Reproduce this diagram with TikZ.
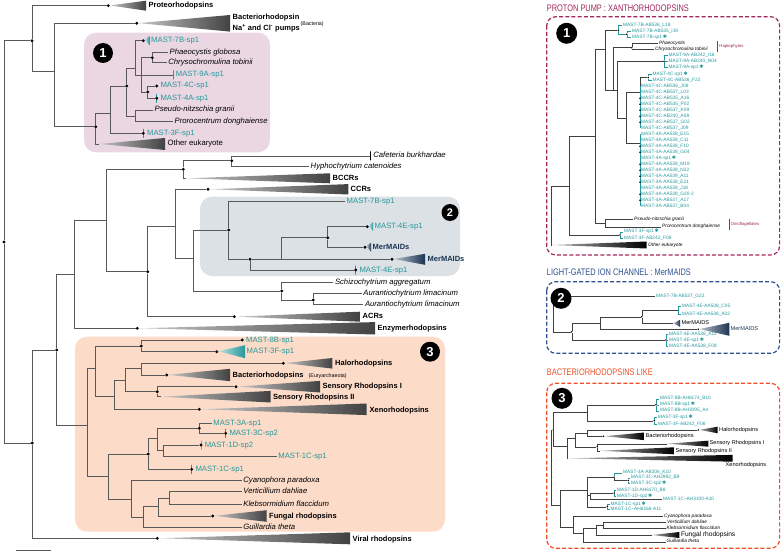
\documentclass[tikz,border=0pt]{standalone}
\usepackage{fontspec}
\setmainfont{Liberation Sans}
\newfontfamily\starfont{DejaVu Sans}
\usetikzlibrary{positioning,calc}

\definecolor{mastc}{RGB}{36,152,156}
\definecolor{navyc}{RGB}{27,52,82}
\definecolor{cladec}{RGB}{66,66,66}
\definecolor{boxone}{RGB}{235,215,226}
\definecolor{boxtwo}{RGB}{219,225,229}
\definecolor{boxthree}{RGB}{252,219,200}
\definecolor{pumpc}{RGB}{160,38,92}
\definecolor{chanc}{RGB}{46,80,142}
\definecolor{bactc}{RGB}{238,80,40}

\newcommand{\cladetri}[5][cladec]{%
  \shade[left color=#1!30, right color=#1] (#2) -- (#3,#4-#5) -- (#3,#4+#5) -- cycle;}
\newcommand{\spmark}{\,{\starfont\fontsize{5}{5}\selectfont ✱}}

\begin{document}
\begin{tikzpicture}[x=1pt, y=-1pt,
  br/.style={draw=black!65, line width=0.6pt},
  pbr/.style={draw=black!75, line width=0.4pt},
  tbr/.style={pbr, draw=mastc},
  dot/.style={circle, fill=black, inner sep=0pt, minimum size=3.2pt},
  pdot/.style={circle, fill=black, inner sep=0pt, minimum size=1.8pt},
  tk/.style={draw=mastc, line width=0.8pt, inner sep=0pt, minimum width=0pt, minimum height=9pt},
  spec/.style={anchor=west, inner sep=1.5pt, text height=5.5pt, text depth=1.5pt, font=\fontsize{7.7}{8}\selectfont\itshape},
  mast/.style={spec, text=mastc, font=\fontsize{7.7}{8}\selectfont},
  grp/.style={spec, font=\fontsize{7.5}{8}\selectfont\bfseries},
  note/.style={spec, font=\fontsize{5.3}{6}\selectfont},
  num/.style={circle, fill=black, text=white, inner sep=0pt, minimum size=20pt, font=\fontsize{13}{13}\selectfont\bfseries},
  plab/.style={anchor=west, inner sep=1pt, text height=3.5pt, text depth=1pt, text=mastc, font=\fontsize{4.8}{5}\selectfont},
  pspec/.style={plab, text=black, font=\fontsize{4.8}{5}\selectfont\itshape},
  pgrp/.style={plab, text=black, font=\fontsize{5.6}{6}\selectfont},
  ptitle/.style={anchor=west, inner sep=0pt, font=\fontsize{9.5}{10}\selectfont},
  pbox/.style={dashed, dash pattern=on 4pt off 2.2pt, line width=1.2pt, rounded corners=9pt},
]
\useasboundingbox (0,0) rectangle (781,556);

% Highlighted clades
\fill[boxone, rounded corners=12pt] (84,32.7) rectangle (270,152.3);
\fill[boxtwo, rounded corners=12pt] (200,196.7) rectangle (460,276);
\fill[boxthree, rounded corners=12pt] (75,336.7) rectangle (445,531.7);

% Root
\node[dot] (root) at (4,242) {};
\node[dot] (nA) at (32,40.7) {};
\node[dot] (nR) at (32.3,443) {};
\draw[br] (root) |- (nA);
\draw[br] (root) |- (nR);

% Proteorhodopsins and bacterial pumps
\node[dot] (proD) at (108.3,5.7) {};
\draw[br] (nA) |- (proD);
\cladetri{proD}{146}{5.7}{5}
\node[grp] (proteo) at (147,5.7) {Proteorhodopsins};
\coordinate (nB) at (54.3,71);
\draw[br] (nA) |- (nB);
\node[dot] (bacD) at (136.7,23.3) {};
\draw[br] (nB) |- (bacD);
\cladetri{bacD}{230}{23.3}{8.3}
\node[grp] (bacR) at (231,18) {Bacteriorhodopsin};
\node[grp] (pumps) at (231,28.7) {Na\textsuperscript{+} and Cl\textsuperscript{-} pumps};
\node[note] (bacteria) at (299,23.5) {(Bacteria)};

% Clade 1
\node[dot] (nC) at (95.7,126.7) {};
\draw[br] (nB) |- (nC);
\coordinate (oeA) at (99,144);
\draw[br] (nC) |- (oeA);
\cladetri{oeA}{165}{144}{6}
\node[spec, font=\fontsize{7.7}{8}\selectfont] (oeuk) at (166,144) {Other eukaryote};
\coordinate (nD) at (110,113);
\draw[br] (nC) |- (nD);
\node[tk] (m3fT) at (143.3,133.3) {};
\node[dot] (m3fD) at (143.3,133.3) {};
\draw[br] (nD) |- (m3fD);
\node[mast, right=0.3pt of m3fD] (m3f) {MAST-3F-sp1};
\node[dot] (nE) at (126.7,86) {};
\draw[br] (nD) |- (nE);
\coordinate (nG) at (135.7,116);
\draw[br] (nE) |- (nG);
\node[spec] (pseudo) at (153,110) {Pseudo-nitzschia granii};
\node[spec] (proro) at (173,121.7) {Prorocentrum donghaiense};
\draw[br] (nG) |- (pseudo.west);
\draw[br] (nG) |- (proro.west);
\coordinate (nF) at (135.7,68);
\draw[br] (nE) |- (nF);
\node[dot] (m7bD) at (143.3,40.7) {};
\draw[br] (nF) |- (m7bD);
\cladetri[mastc]{m7bD}{149.5}{40.7}{4.5}
\node[mast] (m7b) at (149.5,40.7) {MAST-7B-sp1};
\coordinate (nH) at (141,75);
\draw[br] (nF) |- (nH);
\node[dot] (nI) at (152.3,57.7) {};
\draw[br] (nH) |- (nI);
\node[spec] (phaeo) at (168,52.3) {Phaeocystis globosa};
\node[spec] (chryso) at (166.7,62.3) {Chrysochromulina tobinii};
\draw[br] (nI) |- (phaeo.west);
\draw[br] (nI) |- (chryso.west);
\node[tk] (m9aT) at (173.3,75) {};
\draw[br] (nH) -- (m9aT);
\node[mast, right=0.5pt of m9aT] (m9a) {MAST-9A-sp1};
\node[dot] (nL) at (147.7,92) {};
\draw[br] (nH) |- (nL);
\node[dot] (m4cD) at (156.7,86) {};
\draw[br] (nL) |- (m4cD);
\node[mast, right=0.3pt of m4cD] (m4c) {MAST-4C-sp1};
\node[tk] (m4aT) at (156.7,98.3) {};
\node[dot] (m4aD) at (156.7,98.3) {};
\draw[br] (nL) |- (m4aD);
\node[mast, right=0.3pt of m4aD] (m4a) {MAST-4A-sp1};

% Lower half
\node[dot] (nS) at (56.7,350) {};
\draw[br] (nR) |- (nS);
\node[dot] (virD) at (157.3,538.3) {};
\draw[br] (nR) |- (virD);
\cladetri{virD}{350}{538.3}{6}
\node[grp] (viral) at (351,539) {Viral rhodopsins};
\coordinate (nU) at (74,274);
\draw[br] (nS) |- (nU);
\coordinate (nT) at (87.3,425);
\draw[br] (nS) |- (nT);
\coordinate (nV) at (106.7,220);
\draw[br] (nU) |- (nV);
\node[dot] (enzD) at (137.3,328.3) {};
\draw[br] (nU) |- (enzD);
\cladetri{enzD}{375}{328.3}{6.2}
\node[grp] (enzyme) at (376,328.3) {Enzymerhodopsins};

% Channelrhodopsins
\node[dot] (nW) at (183.3,169.3) {};
\draw[br] (nV) |- (nW);
\node[dot] (nX) at (147.7,271.7) {};
\draw[br] (nV) |- (nX);
\node[dot] (nY) at (231.7,160.7) {};
\draw[br] (nW) |- (nY);
\coordinate (bccA) at (186,178.3);
\draw[br] (nW) |- (bccA);
\cladetri{bccA}{330}{178.3}{5}
\node[grp] (bccr) at (331,178.3) {BCCRs};
\node[tk, draw=black] (cafT) at (370.7,156) {};
\draw[br] (nY) |- (cafT);
\node[spec, right=0.5pt of cafT] (cafe) {Cafeteria burkhardae};
\node[spec] (hypho) at (309,166) {Hyphochytrium catenoides};
\draw[br] (nY) |- (hypho.west);
\coordinate (nZ) at (175.3,226);
\draw[br] (nX) |- (nZ);
\node[dot] (acrD) at (234.3,316.7) {};
\draw[br] (nX) |- (acrD);
\cladetri{acrD}{360}{316.7}{5}
\node[grp] (acr) at (361,316.7) {ACRs};
\node[dot] (ccrD) at (208,189.3) {};
\draw[br] (nZ) |- (ccrD);
\cladetri{ccrD}{348.3}{189.3}{5.2}
\node[grp] (ccr) at (349,189.3) {CCRs};
\coordinate (nAA) at (193.3,258.3);
\draw[br] (nZ) |- (nAA);

% Clade 2
\node[dot] (nBB) at (228.7,230) {};
\draw[br] (nAA) |- (nBB);
\node[dot] (nCC) at (281.7,291) {};
\draw[br] (nAA) |- (nCC);
\node[mast] (m7b2) at (345,201.7) {MAST-7B-sp1};
\draw[br] (nBB) |- (m7b2.west);
\node[dot] (nDD) at (250,259.3) {};
\draw[br] (nBB) |- (nDD);
\coordinate (nEE) at (281,259.3);
\draw[br] (nDD) -- (nEE);
\node[dot] (nFF) at (327.7,237.7) {};
\draw[br] (nEE) |- (nFF);
\node[dot] (merD) at (392,259.3) {};
\draw[br] (nEE) -- (merD);
\cladetri[navyc]{merD}{425}{259.3}{5.5}
\node[grp, text=navyc] (mer) at (426,259.3) {MerMAIDs};
\node[tk] (m4e2T) at (355.7,270) {};
\node[dot] (m4e2D) at (355.7,270) {};
\draw[br] (nDD) |- (m4e2D);
\node[mast, right=0.3pt of m4e2D] (m4e2) {MAST-4E-sp1};
\node[dot] (m4eD) at (367.3,226.7) {};
\draw[br] (nFF) |- (m4eD);
\cladetri[mastc]{m4eD}{373}{226.7}{4.5}
\node[mast] (m4e) at (373,226.7) {MAST-4E-sp1};
\node[dot] (merSD) at (365,247.3) {};
\draw[br] (nFF) |- (merSD);
\cladetri[navyc]{merSD}{371}{247.3}{4.5}
\node[grp, text=navyc] (mers) at (371,247.3) {MerMAIDs};
\node[spec] (schizo) at (333.3,282.3) {Schizochytrium aggregatum};
\draw[br] (nCC) |- (schizo.west);
\node[dot] (nGG) at (313.3,300) {};
\draw[br] (nCC) |- (nGG);
\node[spec] (aur1) at (361.7,293.3) {Aurantiochytrium limacinum};
\node[spec] (aur2) at (363.3,304.3) {Aurantiochytrium limacinum};
\draw[br] (nGG) |- (aur1.west);
\draw[br] (nGG) |- (aur2.west);

% Clade 3
\coordinate (nHH) at (95.7,368.3);
\draw[br] (nT) |- (nHH);
\coordinate (nII) at (108.3,476.7);
\draw[br] (nT) |- (nII);
\node[dot] (nJJ) at (141.3,346) {};
\draw[br] (nHH) |- (nJJ);
\coordinate (nKK) at (114.3,396);
\draw[br] (nHH) |- (nKK);
\node[dot] (m8bD) at (242.3,340) {};
\draw[br] (nJJ) |- (m8bD);
\node[mast, right=0.3pt of m8bD] (m8b) {MAST-8B-sp1};
\node[dot] (m3f2D) at (216.7,351.7) {};
\draw[br] (nJJ) |- (m3f2D);
\cladetri[mastc]{m3f2D}{245}{351.7}{6.5}
\node[mast] (m3f2) at (245,351.7) {MAST-3F-sp1};
\coordinate (nLL) at (125,380);
\draw[br] (nKK) |- (nLL);
\node[dot] (xenD) at (199.3,409.3) {};
\draw[br] (nKK) |- (xenD);
\cladetri{xenD}{366.7}{409.3}{5.8}
\node[grp] (xeno) at (368,410) {Xenorhodopsins};
\coordinate (nMM) at (141.7,368.3);
\draw[br] (nLL) |- (nMM);
\node[dot] (nNN) at (157.3,391.7) {};
\draw[br] (nLL) |- (nNN);
\node[dot] (halD) at (283.3,363.3) {};
\draw[br] (nMM) |- (halD);
\cladetri{halD}{332.3}{363.3}{5.3}
\node[grp] (halo) at (333.5,363.3) {Halorhodopsins};
\node[dot] (bac2D) at (166.7,375) {};
\draw[br] (nMM) |- (bac2D);
\cladetri{bac2D}{230}{375}{6.2}
\node[grp] (bacR2) at (231,375) {Bacteriorhodopsins};
\node[note] (eury) at (307,375.5) {(Euryarchaeota)};
\node[dot] (sr1D) at (236,386.7) {};
\draw[br] (nNN) |- (sr1D);
\cladetri{sr1D}{320}{386.7}{5.8}
\node[grp] (sr1) at (321,386.7) {Sensory Rhodopsins I};
\coordinate (sr2A) at (161,396.7);
\draw[br] (nNN) |- (sr2A);
\cladetri{sr2A}{270.7}{396.7}{5.8}
\node[grp] (sr2) at (271.5,397) {Sensory Rhodopsins II};
\node[dot] (nOO) at (148.3,454) {};
\draw[br] (nII) |- (nOO);
\coordinate (nPP) at (131.7,499.3);
\draw[br] (nII) |- (nPP);
\coordinate (nQQ) at (157.7,438.3);
\draw[br] (nOO) |- (nQQ);
\node[tk] (m1cT) at (191.7,469.3) {};
\node[dot] (m1cD) at (191.7,469.3) {};
\draw[br] (nOO) |- (m1cD);
\node[mast, right=0.3pt of m1cD] (m1c) {MAST-1C-sp1};
\node[dot] (nRR) at (199.3,428.3) {};
\draw[br] (nQQ) |- (nRR);
\coordinate (nSS) at (163.3,450);
\draw[br] (nQQ) |- (nSS);
\node[mast] (m3a) at (211.7,423.3) {MAST-3A-sp1};
\draw[br] (nRR) |- (m3a.west);
\node[tk] (m3cT) at (225.7,433.3) {};
\node[dot] (m3cD) at (225.7,433.3) {};
\draw[br] (nRR) |- (m3cD);
\node[mast, right=0.3pt of m3cD] (m3c) {MAST-3C-sp2};
\node[tk] (m1dT) at (201,445) {};
\node[dot] (m1dD) at (201,445) {};
\draw[br] (nSS) |- (m1dD);
\node[mast, right=0.3pt of m1dD] (m1d) {MAST-1D-sp2};
\node[mast] (m1c2) at (276.7,456.7) {MAST-1C-sp1};
\draw[br] (nSS) |- (m1c2.west);
\node[spec] (cyano) at (241.7,480) {Cyanophora paradoxa};
\draw[br] (nPP) |- (cyano.west);
\coordinate (nTT) at (143.3,517.3);
\draw[br] (nPP) |- (nTT);
\coordinate (nUU) at (158.3,506.7);
\draw[br] (nTT) |- (nUU);
\node[spec] (guill) at (241.7,527.7) {Guillardia theta};
\draw[br] (nTT) |- (guill.west);
\coordinate (nVV) at (169.3,498);
\draw[br] (nUU) |- (nVV);
\node[dot] (funD) at (212.7,516) {};
\draw[br] (nUU) |- (funD);
\cladetri{funD}{266.7}{516}{5.8}
\node[grp] (fungal) at (267.5,516) {Fungal rhodopsins};
\node[spec] (verti) at (241.7,491.7) {Verticillium dahliae};
\node[spec] (klebs) at (241.7,504.3) {Klebsormidium flaccidum};
\draw[br] (nVV) |- (verti.west);
\draw[br] (nVV) |- (klebs.west);

% Scale bar
\draw[br] (16,550.7) -- (50.7,550.7);

% Clade numbers
\node[num] (one) at (103,53) {1};
\node[num, minimum size=17pt, font=\fontsize{11}{11}\selectfont\bfseries] (two) at (450,212.5) {2};
\node[num] (three) at (430,351.7) {3};

% Panel 1: proton pumps
\node[ptitle, text=pumpc] (tpump) at (546.7,8.5) {\scalebox{0.78}[1]{PROTON PUMP : XANTHORHODOPSINS}};
\draw[pbox, pumpc] (546.7,16.7) rectangle (779.6,255);
\coordinate (q1r) at (550.7,216);
\coordinate (q1oe) at (552,245);
\draw[pbr] (q1r) |- (q1oe);
\cladetri[black]{q1oe}{646.7}{245}{3.5}
\node[pspec] (p1oe) at (647,245) {Other eukaryote};
\coordinate (q1a) at (569.3,186.7);
\draw[pbr] (q1r) |- (q1a);
\coordinate (q1b) at (595,136.7);
\draw[pbr] (q1a) |- (q1b);
\node[pdot] (q1f3) at (620,235) {};
\draw[pbr] (q1a) |- (q1f3);
\node[plab] (p3f1) at (623,231.7) {MAST-3F-sp1\spmark};
\node[plab] (p3f2) at (623,238.3) {MAST-3F-AB242\_F06};
\draw[tbr] (q1f3) |- (p3f1.west);
\draw[tbr] (q1f3) |- (p3f2.west);
\coordinate (q1c) at (605,49.3);
\draw[pbr] (q1b) |- (q1c);
\coordinate (q1pp) at (605,223.3);
\draw[pbr] (q1b) |- (q1pp);
\node[pspec] (p1ps) at (633,219.3) {Pseudo-nitzschia granii};
\node[pspec] (p1pr) at (661,226.7) {Prorocentrum donghaiense};
\draw[pbr] (q1pp) |- (p1ps.west);
\draw[pbr] (q1pp) |- (p1pr.west);
\draw[pumpc, line width=0.5pt] (729.3,219) -- (729.3,229.5);
\node[plab, text=pumpc, font=\fontsize{4.3}{5}\selectfont] (dino) at (729.8,224.3) {Dinoflagellates};
\node[pdot] (q1n7) at (618.3,30.7) {};
\draw[pbr] (q1c) |- (q1n7);
\coordinate (q1d) at (613.3,90);
\draw[pbr] (q1c) |- (q1d);
\node[plab] (p7a) at (622,25) {MAST-7B-AB536\_L18};
\draw[tbr] (q1n7) |- (p7a.west);
\node[pdot] (q1s7) at (626.7,34.3) {};
\draw[tbr] (q1n7) |- (q1s7);
\node[plab] (p7b) at (631,31.3) {MAST-7B-AB535\_I19};
\node[plab] (p7c) at (631,37.3) {MAST-7B-sp1\spmark};
\draw[tbr] (q1s7) |- (p7b.west);
\draw[tbr] (q1s7) |- (p7c.west);
\node[pdot] (q1hap) at (631.7,47.7) {};
\draw[pbr] (q1d) |- (q1hap);
\node[pspec] (p1ph) at (658,43.3) {Phaeocystis};
\node[pspec] (p1ch) at (654,49.3) {Chrysochromulina tobinii};
\draw[pbr] (q1hap) |- (p1ph.west);
\draw[pbr] (q1hap) |- (p1ch.west);
\draw[pumpc, line width=0.5pt] (717.7,41) -- (717.7,52);
\node[plab, text=pumpc, font=\fontsize{4.3}{5}\selectfont] (hapto) at (718.2,46.5) {Haptophytes};
\coordinate (q1e) at (616.7,90);
\draw[pbr] (q1d) -- (q1e);
\node[pdot] (q1n9) at (664,61.3) {};
\draw[pbr] (q1e) |- (q1n9);
\node[plab] (p9a) at (667.5,55.3) {MAST-9A-AB242\_I16};
\node[plab] (p9b) at (667.5,61.3) {MAST-9A-AB240\_N04};
\node[plab] (p9c) at (667.5,67.3) {MAST-9A-sp1\spmark};
\draw[tbr] (q1n9) |- (p9a.west);
\draw[tbr] (q1n9) -- (p9b.west);
\draw[tbr] (q1n9) |- (p9c.west);
\coordinate (q1f) at (626,118.3);
\draw[pbr] (q1e) |- (q1f);
\coordinate (q1n4c) at (640,92.7);
\draw[pbr] (q1f) |- (q1n4c);
\coordinate (q1n4a) at (640,143.3);
\draw[pbr] (q1f) |- (q1n4a);
\node[pdot] (q1c4) at (648.3,77.5) {};
\draw[pbr] (q1n4c) |- (q1c4);
\node[plab] (p4ca) at (651.5,74.7) {MAST-4C-sp1\spmark};
\node[plab] (p4cb) at (651.5,80.3) {MAST-4C-AB536\_F22};
\draw[tbr] (q1c4) |- (p4ca.west);
\draw[tbr] (q1c4) |- (p4cb.west);
\foreach \lab [count=\i] in {AB536\_J08, AB537\_L03, AB535\_A16, AB535\_P02, AB537\_K09, AB240\_A08, AB537\_G02, AB537\_J09}
  \node[plab] (q4c-\i) at (640,80.3+6*\i) {MAST-4C-\lab};
\draw[tbr, line width=0.6pt] (q4c-1.west) -- (q4c-8.west);
\foreach \i in {3,4,5,6,7}
  \node[pdot] (d4c-\i) at (q4c-\i.west) {};
\foreach \lab [count=\i] in {AA538\_E15, AA538\_C11, AA538\_F10, AA538\_G04, sp1\spmark, AA538\_M19, AA538\_N22, AA539\_A11, AA538\_E21, AA538\_J18, AA538\_G20-2, AB537\_A17, AB537\_B04}
  \node[plab] (q4a-\i) at (640,128.3+6*\i) {MAST-4A-\lab};
\draw[tbr, line width=0.6pt] (q4a-1.west) -- (q4a-13.west);
\foreach \i in {3,4,6,7,8,9,11,12}
  \node[pdot] (d4a-\i) at (q4a-\i.west) {};
\node[num, minimum size=21pt] (pone) at (566.7,33.3) {1};

% Panel 2: light-gated channels
\node[ptitle, text=chanc] (tchan) at (546.7,272.7) {\scalebox{0.78}[1]{LIGHT-GATED ION CHANNEL : MerMAIDS}};
\draw[pbox, chanc] (546.7,281.7) rectangle (779.6,353.3);
\coordinate (q2r) at (552.7,314);
\node[plab] (p2g) at (655,296) {MAST-7B-AB537\_G22};
\draw[pbr] (q2r) |- (p2g.west);
\node[pdot] (q2a) at (571.7,331.7) {};
\draw[pbr] (q2r) |- (q2a);
\coordinate (q2b) at (600,323);
\draw[pbr] (q2a) |- (q2b);
\node[pdot] (q2e) at (666,340) {};
\draw[pbr] (q2a) |- (q2e);
\node[pdot] (q2c) at (641.7,316.7) {};
\draw[pbr] (q2b) |- (q2c);
\node[pdot] (q2m) at (698.3,329.3) {};
\draw[pbr] (q2b) |- (q2m);
\cladetri[navyc]{q2m}{729.3}{329.3}{6.5}
\node[pgrp, text=navyc] (p2mb) at (729.5,329.3) {MerMAIDS};
\coordinate (q2d) at (678.3,310);
\draw[pbr] (q2c) |- (q2d);
\node[plab] (p2c05) at (681,306) {MAST-4E-AA538\_C05};
\node[plab] (p2a02) at (681,314) {MAST-4E-AA538\_A02};
\draw[tbr] (q2d) |- (p2c05.west);
\draw[tbr] (q2d) |- (p2a02.west);
\coordinate (q2s) at (673.3,323.3);
\draw[pbr] (q2c) |- (q2s);
\cladetri[navyc]{q2s}{680}{323.3}{3.5}
\node[pgrp] (p2ms) at (680.5,323.3) {MerMAIDS};
\node[plab] (p2a11) at (668,334.3) {MAST-4E-AA538\_A11};
\node[plab] (p2sp) at (668,340) {MAST-4E-sp1\spmark};
\node[plab] (p2f08) at (668,346) {MAST-4E-AA538\_F08};
\draw[tbr] (q2e) |- (p2a11.west);
\draw[tbr] (q2e) -- (p2sp.west);
\draw[tbr] (q2e) |- (p2f08.west);
\node[num, minimum size=21pt] (ptwo) at (561,298.3) {2};

% Panel 3: bacteriorhodopsin-like
\node[ptitle, text=bactc] (tbact) at (546.7,372.3) {\scalebox{0.78}[1]{BACTERIORHODOPSINS LIKE}};
\draw[pbox, bactc] (546.7,383.3) rectangle (779.6,548.3);
\coordinate (q3r) at (551,478);
\node[pdot] (q3u1) at (553.3,430) {};
\draw[pbr] (q3r) |- (q3u1);
\coordinate (q3u2) at (560,505);
\draw[pbr] (q3r) |- (q3u2);
\coordinate (q3a) at (586.7,412.6);
\draw[pbr] (q3u1) |- (q3a);
\coordinate (q3x) at (566.7,446);
\draw[pbr] (q3u1) |- (q3x);
\node[pdot] (q3b8) at (656,404.7) {};
\draw[pbr] (q3a) |- (q3b8);
\node[plab] (p8a) at (659,398.7) {MAST-8B-AH6174\_B10};
\node[plab] (p8b) at (659,404.7) {MAST-8B-sp1\spmark};
\node[plab] (p8c) at (659,410.7) {MAST-8B-AH3095\_A4};
\draw[tbr] (q3b8) |- (p8a.west);
\draw[tbr] (q3b8) -- (p8b.west);
\draw[tbr] (q3b8) |- (p8c.west);
\node[pdot] (q3f3) at (654.3,420.7) {};
\draw[pbr] (q3a) |- (q3f3);
\node[plab] (p3fa) at (657,417.3) {MAST-3F-sp1\spmark};
\node[plab] (p3fb) at (657,424) {MAST-3F-AB242\_F06};
\draw[tbr] (q3f3) |- (p3fa.west);
\draw[tbr] (q3f3) |- (p3fb.west);
\coordinate (q3s) at (575,438);
\draw[pbr] (q3x) |- (q3s);
\coordinate (q3xe) at (568.3,458.3);
\draw[pbr] (q3x) |- (q3xe);
\cladetri[black]{q3xe}{732.7}{458.3}{3.4}
\node[pgrp] (p3xe) at (724.5,465.3) {Xenorhodopsins};
\coordinate (q3h) at (586.7,433);
\draw[pbr] (q3s) |- (q3h);
\node[pdot] (q3si) at (597.3,446.7) {};
\draw[pbr] (q3s) |- (q3si);
\node[pdot] (q3ha) at (698.3,430) {};
\draw[pbr] (q3h) |- (q3ha);
\cladetri[black]{q3ha}{717.7}{430}{3.3}
\node[pgrp] (p3ha) at (718,430) {Halorhodopsins};
\node[pdot] (q3ba) at (603.3,436.3) {};
\draw[pbr] (q3h) |- (q3ba);
\cladetri[black]{q3ba}{644}{436.3}{3.8}
\node[pgrp] (p3ba) at (644.5,436.3) {Bacteriorhodopsins};
\coordinate (q3s1) at (666.7,443.7);
\draw[pbr] (q3si) |- (q3s1);
\cladetri[black]{q3s1}{708.3}{443.7}{3}
\node[pgrp] (p3s1) at (708.5,443.7) {Sensory Rhodopsins I};
\coordinate (q3s2) at (600,450.8);
\draw[pbr] (q3si) |- (q3s2);
\cladetri[black]{q3s2}{674}{450.8}{3.5}
\node[pgrp] (p3s2) at (674.5,450.8) {Sensory Rhodopsins II};
\coordinate (q3w0) at (586.7,490);
\draw[pbr] (q3u2) |- (q3w0);
\coordinate (q3w2) at (572.7,527);
\draw[pbr] (q3u2) |- (q3w2);
\node[pdot] (q3n3) at (614,477.3) {};
\draw[pbr] (q3w0) |- (q3n3);
\node[plab] (p3a) at (622,472.7) {MAST-3A-AB206\_K10};
\draw[tbr] (q3n3) |- (p3a.west);
\node[pdot] (q3n3c) at (628.3,480.5) {};
\draw[pbr] (q3n3) |- (q3n3c);
\node[plab] (p3ca) at (630,477.7) {MAST-3C-AH2992\_B9};
\node[plab] (p3cb) at (630,483.3) {MAST-3C-sp2\spmark};
\draw[tbr] (q3n3c) |- (p3ca.west);
\draw[tbr] (q3n3c) |- (p3cb.west);
\coordinate (q3w4) at (590,495);
\draw[pbr] (q3w0) |- (q3w4);
\node[pdot] (q3n1d) at (614.3,493) {};
\draw[pbr] (q3w4) |- (q3n1d);
\node[plab] (p1da) at (616,490) {MAST-1D-AH6170\_B8};
\node[plab] (p1db) at (616,496) {MAST-1D-sp2\spmark};
\draw[tbr] (q3n1d) |- (p1da.west);
\draw[tbr] (q3n1d) |- (p1db.west);
\node[plab] (p1ca) at (662,499.3) {MAST-1C--AH3100-A10};
\draw[pbr] (q3w4) |- (p1ca.west);
\node[pdot] (q3n1c) at (607.3,506.7) {};
\draw[pbr] (q3w0) |- (q3n1c);
\node[plab] (p1cb) at (609.5,504.3) {MAST-1C-sp1\spmark};
\node[plab] (p1cc) at (609.5,509.3) {MAST-1C--AH6166-A11};
\draw[tbr] (q3n1c) |- (p1cb.west);
\draw[tbr] (q3n1c) |- (p1cc.west);
\node[pspec] (p3cy) at (663,516) {Cyanophora paradoxa};
\draw[pbr] (q3w2) |- (p3cy.west);
\coordinate (q3w5) at (582.7,533);
\draw[pbr] (q3w2) |- (q3w5);
\coordinate (q3w6) at (596,528.5);
\draw[pbr] (q3w5) |- (q3w6);
\node[pspec] (p3gu) at (665.5,541.7) {Guillardia theta};
\draw[pbr] (q3w5) |- (p3gu.west);
\coordinate (q3w7) at (603.3,525);
\draw[pbr] (q3w6) |- (q3w7);
\coordinate (q3fu) at (651.7,535);
\draw[pbr] (q3w6) |- (q3fu);
\cladetri[black]{q3fu}{679.3}{535}{3}
\node[pgrp, font=\fontsize{6.6}{7}\selectfont] (p3fu) at (679.8,535) {Fungal rhodopsins};
\node[pspec] (p3ve) at (666,522) {Verticillium dahliae};
\node[pspec] (p3kl) at (665.5,528.3) {Klebsormidium flaccidum};
\draw[pbr] (q3w7) |- (p3ve.west);
\draw[pbr] (q3w7) |- (p3kl.west);
\node[num, minimum size=21pt] (pthree) at (562,398.3) {3};

\end{tikzpicture}
\end{document}
